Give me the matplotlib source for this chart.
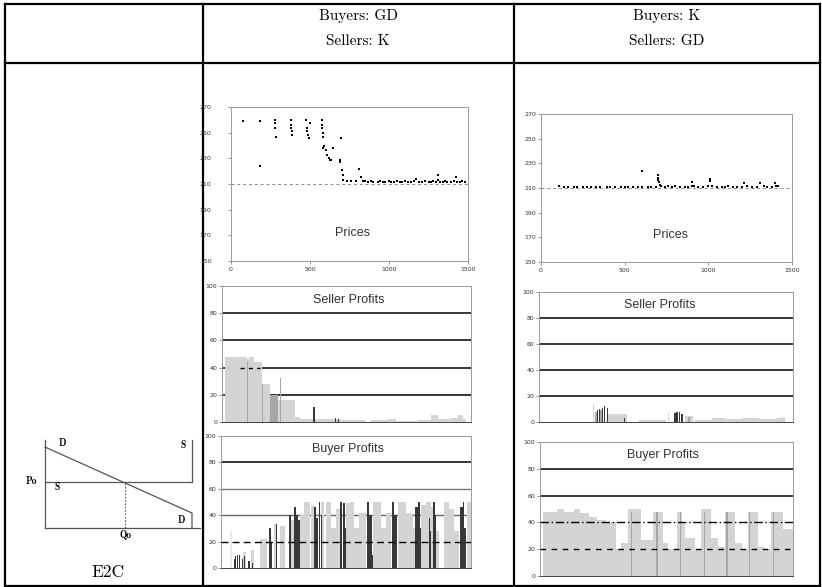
import matplotlib
matplotlib.use('Agg')
import matplotlib.pyplot as plt

W, H = 822, 587

# column headers
headers = [('Buyers: GD', 'Sellers: K'), ('Buyers: K', 'Sellers: GD')]
row_label = 'E2C'

# prices, buyers GD / sellers K
p2_trade = [76, 185, 185, 280, 280, 280, 283, 381, 381, 381,
            384, 384, 475, 500, 480, 483, 490, 495, 574, 574,
            574, 580, 580, 585, 588, 600, 610, 618, 625, 635,
            648, 690, 690, 697, 700, 710, 710, 732, 760, 790,
            812, 820, 835,
            850, 870, 885, 900, 930, 945, 960, 975, 1000, 1015,
            1030, 1050, 1070, 1085, 1100, 1120, 1140, 1160, 1174, 1190,
            1210, 1230, 1250, 1265, 1280, 1300, 1311, 1311, 1320, 1340,
            1355, 1370, 1390, 1410, 1426, 1430, 1450, 1465, 1480]
p2_price = [259.3, 258.8, 224, 260, 257.5, 253.6, 247, 260, 256, 253.6,
            251.5, 248.3, 260, 257.5, 253.6, 251.5, 248.3, 245.7, 260, 256,
            254, 249.7, 247, 238, 240, 236.6, 232.7, 230, 228.8, 228.8,
            238, 228.8, 227.5, 245.7, 221, 217, 213, 212, 212, 212,
            221.6, 215.7, 212.3,
            212, 211.5, 212, 211.8, 211.5, 212, 211.8, 211.5, 212, 211.8,
            211.5, 212, 211.5, 211.8, 212, 211.5, 211.8, 212, 214, 211.5,
            211.8, 212, 211.5, 211.8, 212, 211.5, 217, 213.5, 211.8, 211.5,
            212, 211.8, 211.5, 212, 215.7, 211.8, 211.5, 212, 211.8]

# prices, buyers K / sellers GD
p3_trade = [105, 140, 160, 200, 215, 250, 275, 300, 330, 350,
            395, 410, 440, 480, 500, 520, 550, 580, 602, 602,
            640, 660, 690, 698, 700, 702, 705, 710, 720, 740,
            760, 780, 800, 830, 860, 880, 900, 905, 915, 940,
            970, 1000, 1010, 1012, 1020, 1050, 1080, 1100, 1120, 1150,
            1170, 1200, 1215, 1230, 1260, 1290, 1310, 1330, 1350, 1380,
            1400, 1405, 1415]
p3_price = [211.8, 210.5, 210.8, 210.5, 210.5, 210.8, 210.5, 210.5, 210.8, 210.5,
            210.5, 210.8, 210.5, 210.5, 210.8, 210.5, 210.5, 210.8, 223.7, 210.5,
            210.5, 210.8, 211, 220.4, 218.3, 216.4, 214.5, 212.5, 211.5, 210.8,
            211.5, 210.8, 211.5, 210.8, 210.5, 211, 211.5, 214.5, 211.5, 210.8,
            210.5, 211.5, 217.7, 215.6, 212, 211.2, 210.5, 211, 211.8, 210.8,
            210.5, 211.2, 213.7, 211.8, 210.8, 210.5, 213.7, 211.5, 210.8, 210.5,
            213.7, 211.8, 211.5]
eq_price = 210

# profit bars: (first trade, trades covered, profit)
s2_light = [(20, 130, 48), (150, 10, 46), (160, 30, 48), (190, 50, 44), (240, 50, 28),
            (340, 100, 16), (440, 30, 4), (470, 80, 2), (560, 110, 2), (670, 40, 2),
            (710, 150, 1.5), (900, 100, 1.5), (1000, 50, 2), (1050, 130, 1),
            (1180, 80, 1.5), (1260, 40, 5), (1300, 80, 2), (1380, 40, 3),
            (1420, 30, 5), (1450, 20, 2)]
s2_mid = [(150, 6, 44), (240, 8, 28), (290, 50, 20), (350, 4, 32)]
s2_dark = [(550, 10, 11), (680, 8, 3), (700, 6, 2.5)]

b2_light = [(130, 20, 12), (180, 16, 14), (236, 40, 22), (320, 14, 33), (356, 30, 32),
            (420, 20, 36), (476, 20, 40), (496, 40, 50), (540, 16, 48), (600, 16, 50),
            (630, 30, 50), (660, 30, 30), (690, 24, 45), (750, 24, 49), (774, 24, 50),
            (800, 30, 30), (830, 40, 42), (910, 30, 50), (940, 20, 50), (960, 30, 30),
            (990, 30, 42), (1060, 30, 50), (1090, 20, 50), (1110, 40, 42), (1150, 16, 30),
            (1200, 30, 48), (1230, 30, 50), (1260, 10, 46), (1290, 16, 28), (1340, 30, 50),
            (1370, 30, 45), (1400, 30, 28), (1476, 24, 50)]
b2_faint = [(52, 12, 28)]
b2_dark = [(76, 6, 7), (86, 6, 9), (96, 6, 10), (110, 6, 10), (126, 6, 7), (140, 6, 9),
           (160, 6, 5), (170, 6, 5), (186, 6, 4), (232, 4, 5), (286, 14, 30), (300, 6, 20),
           (330, 8, 33), (334, 4, 12), (406, 14, 40), (440, 10, 46), (452, 12, 40),
           (464, 12, 36), (556, 12, 46), (572, 10, 38), (586, 10, 50), (598, 6, 40),
           (716, 12, 50), (730, 14, 49), (744, 6, 30), (876, 14, 50), (890, 16, 40),
           (904, 6, 10), (1026, 14, 50), (1040, 16, 40), (1166, 14, 46), (1180, 16, 50),
           (1196, 6, 30), (1246, 10, 38), (1256, 6, 28), (1270, 14, 50), (1284, 6, 40),
           (1436, 14, 46), (1450, 10, 50), (1460, 10, 30)]

s3_light = [(320, 6, 14), (408, 110, 6), (500, 20, 4), (590, 160, 1.5), (762, 6, 7),
            (860, 50, 5), (920, 100, 1.5), (1020, 80, 3), (1100, 100, 2.5),
            (1200, 100, 3), (1300, 100, 2), (1400, 40, 3), (1440, 10, 4)]
s3_mid = [(330, 10, 8), (360, 20, 9), (800, 20, 6), (880, 10, 4)]
s3_dark = [(340, 8, 9), (352, 6, 10), (370, 8, 11), (384, 8, 12), (400, 6, 11),
           (500, 6, 3), (800, 8, 7), (812, 8, 8), (826, 8, 8), (840, 8, 6)]

b3_light = [(20, 80, 48), (100, 40, 50), (140, 60, 48), (200, 40, 50), (240, 50, 47),
            (290, 50, 44), (340, 50, 42), (390, 60, 40), (450, 30, 20), (480, 40, 25),
            (520, 80, 50), (600, 70, 27), (670, 60, 48), (730, 30, 25), (760, 50, 20),
            (810, 30, 48), (840, 20, 40), (860, 60, 28), (920, 35, 20), (955, 60, 50),
            (1015, 40, 28), (1055, 40, 22), (1095, 60, 48), (1155, 40, 25), (1195, 40, 20),
            (1235, 55, 48), (1290, 40, 22), (1330, 40, 20), (1370, 70, 48), (1440, 60, 35)]
b3_mid = [(538, 8, 48), (690, 8, 48), (828, 8, 48), (970, 8, 48), (1104, 8, 48),
          (1240, 8, 48), (1382, 8, 48)]

# supply / demand sketch
demand_q = [0, 1, 1]
demand_p = [0.92, 0.17, 0]
supply_q = [0, 1, 1]
supply_p = [0.523, 0.523, 1]
eq_q = 0.544

LIGHT, MID, DARK = '#d4d4d4', '#a6a6a6', '#383838'

fig = plt.figure(figsize=(W / 100, H / 100), dpi=100)


def box(x0, y0, x1, y1):
    return [x0 / W, 1 - y1 / H, (x1 - x0) / W, (y1 - y0) / H]


# table grid
tab = fig.add_axes([0, 0, 1, 1])
tab.set_xlim(0, W)
tab.set_ylim(H, 0)
tab.axis('off')
for xa, ya, xb, yb in [(5, 4, 820, 4), (5, 586, 820, 586), (5, 4, 5, 586),
                       (820, 4, 820, 586), (5, 63, 820, 63),
                       (203, 4, 203, 586), (514, 4, 514, 586)]:
    tab.plot([xa, xb], [ya, yb], color='k', lw=1.6, solid_capstyle='projecting')
for cx, (l1, l2) in zip([358, 667], headers):
    tab.text(cx, 16, l1, ha='center', va='center', family='cmr10', size=11)
    tab.text(cx, 41, l2, ha='center', va='center', family='cmr10', size=11)
tab.text(108, 572, row_label, ha='center', va='center', family='cmr10', size=12.5)


def frame(ax, pad):
    for s in ax.spines.values():
        s.set_color('#9a9a9a')
        s.set_linewidth(0.7)
    ax.tick_params(labelsize=4.5, length=2, width=0.5, color='#666', pad=pad,
                   labelcolor='#333')
    ax.set_xlim(0, 1500)


def price_chart(rect, trade, price, pad):
    ax = fig.add_axes(box(*rect))
    frame(ax, pad)
    ax.tick_params(axis='x', pad=2.5)
    ax.set_ylim(150, 270)
    ax.set_yticks(range(150, 271, 20))
    ax.set_xticks([0, 500, 1000, 1500])
    ax.axhline(eq_price, color='#888', lw=0.7, ls=(0, (3, 3)), zorder=1)
    ax.plot(trade, price, 's', ms=1.8, mew=0, color='k', zorder=3)
    ax.text(772, 172, 'Prices', ha='center', va='center', size=9,
            family='Liberation Sans', color='#333')
    return ax


def bars(ax, data, color, z=2):
    left, width, height = zip(*data)
    ax.bar(left, height, width=width, align='edge', color=color, lw=0, zorder=z)


def profit_chart(rect, title, tx):
    ax = fig.add_axes(box(*rect))
    frame(ax, 1.5)
    ax.spines['bottom'].set_color('#444')
    ax.set_ylim(0, 100)
    ax.set_yticks(range(0, 101, 20))
    ax.set_xticks([])
    ax.text(tx, 90, title, ha='center', va='center', size=9,
            family='Liberation Sans', color='#333')
    return ax


price_chart((231, 107, 468, 261), p2_trade, p2_price, 12)
price_chart((541, 114, 792, 262), p3_trade, p3_price, 1.5)

# seller profits, buyers GD
ax = profit_chart((222, 286, 471, 422), 'Seller Profits', 765)
for g in [20, 40, 60, 80]:
    ax.axhline(g, color='k', lw=1.1, zorder=1)
bars(ax, s2_light, LIGHT)
bars(ax, s2_mid, MID)
bars(ax, s2_dark, DARK)
ax.plot([110, 230], [40, 40], color='k', lw=1.0, ls=(0, (3, 3)), zorder=3)

# buyer profits, buyers GD
ax = profit_chart((221, 436, 471, 568), 'Buyer Profits', 762)
ax.axhline(80, color='k', lw=1.1, zorder=1)
ax.axhline(60, color='#777', lw=1.0, zorder=1)
ax.axhline(40, color='#666', lw=1.0, zorder=1)
bars(ax, b2_faint, '#eaeaea')
bars(ax, b2_light, LIGHT)
bars(ax, b2_dark, DARK)
ax.axhline(20, color='k', lw=1.0, ls=(0, (5, 3)), zorder=3)

# seller profits, buyers K
ax = profit_chart((539, 292, 793, 422), 'Seller Profits', 715)
for g in [20, 40, 60, 80]:
    ax.axhline(g, color='k', lw=1.1, zorder=1)
bars(ax, s3_light, LIGHT)
bars(ax, s3_mid, MID)
bars(ax, s3_dark, DARK)

# buyer profits, buyers K
ax = profit_chart((540, 442, 793, 576), 'Buyer Profits', 729)
ax.axhline(80, color='k', lw=1.1, zorder=1)
ax.axhline(60, color='k', lw=1.1, zorder=1)
bars(ax, b3_light, LIGHT)
bars(ax, b3_mid, MID)
ax.axhline(40, color='k', lw=1.0, ls=(0, (6, 2, 1, 2)), zorder=3)
ax.axhline(20, color='k', lw=1.0, ls=(0, (4, 4)), zorder=3)

# supply and demand sketch
sd = fig.add_axes(box(45, 440, 192, 528))
sd.set_xlim(0, 1)
sd.set_ylim(0, 1)
sd.axis('off')
kw = dict(color='#555', lw=0.9, clip_on=False)
sd.plot([0, 0], [0, 1], **kw)
sd.plot([0, 1.054], [0, 0], **kw)
sd.plot(demand_q, demand_p, **kw)
sd.plot(supply_q, supply_p, **kw)
sd.plot([eq_q, eq_q], [0, supply_p[0]], color='#555', lw=0.8, ls=(0, (1.5, 1.5)))
lab = dict(family='cmb10', size=7, ha='center', va='center')
sd.text(0.12, 0.97, 'D', **lab)
sd.text(0.94, 0.94, 'S', **lab)
sd.text(-0.09, 0.53, 'Po', **lab)
sd.text(0.08, 0.47, 'S', **lab)
sd.text(0.93, 0.09, 'D', **lab)
sd.text(0.55, -0.08, 'Qo', **lab)

fig.savefig('out.png', dpi=100)
